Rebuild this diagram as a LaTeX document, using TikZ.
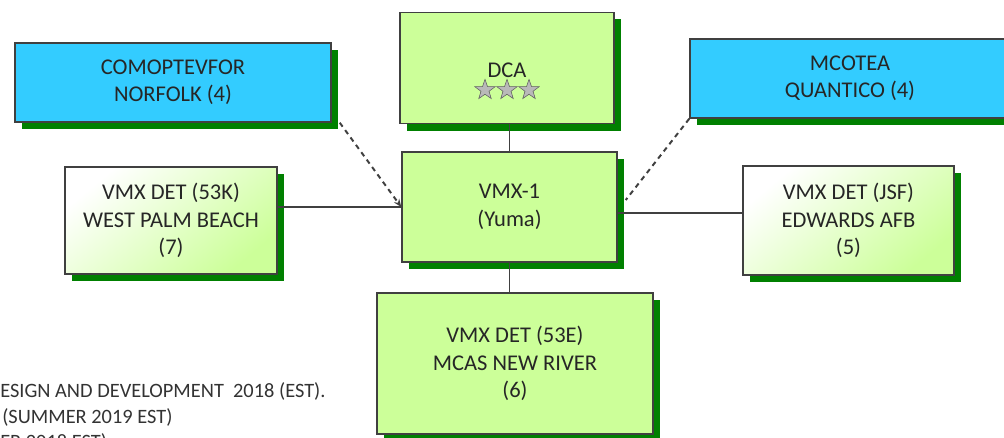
\documentclass[tikz,border=0pt]{standalone}
\usepackage{fontspec}
\setmainfont{Carlito}
\usetikzlibrary{arrows.meta,positioning,shadows,shapes.geometric}
\definecolor{boxgreen}{HTML}{CCFF99}
\definecolor{boxblue}{HTML}{33CCFF}
\definecolor{shadowgreen}{HTML}{008000}
\definecolor{edgegray}{HTML}{404040}

\begin{document}
\begin{tikzpicture}[x=0.025cm, y=-0.025cm, >=Stealth,
 every node/.style={font=\fontsize{16}{19.5}\selectfont, text=black!85},
 box/.style={draw=edgegray, line width=1pt, align=center, inner sep=0pt,
   drop shadow={shadow xshift=1.75mm, shadow yshift=-1.75mm, fill=shadowgreen, opacity=1}},
 greenbox/.style={box, fill=boxgreen},
 bluebox/.style={box, fill=boxblue},
 fadebox/.style={box, top color=white, bottom color=boxgreen, shading angle=40},
 link/.style={draw=edgegray, line width=1pt},
 dashlink/.style={link, line width=1.4pt, dash pattern=on 3.5pt off 3pt},
 starmark/.style={star, star points=5, star point ratio=2.5, minimum size=0.53cm,
   inner sep=0pt, fill=gray!55, draw=gray!75!black, line width=0.4pt},
 notetext/.style={font=\fontsize{14.5}{17.5}\selectfont, text=black!80,
   anchor=base west, inner sep=0pt}]
 \useasboundingbox (0,0) rectangle (1004,438);
 \clip (0,0) rectangle (1004,438);

 % boxes
 \node[greenbox, minimum width=5.35cm, minimum height=2.775cm] (dca) at (507,68) {};
 \node (dcatext) at (507,70) {DCA};
 \foreach \i in {-1,0,1}
   \node[starmark] (star\i) at ({507+22*\i},90) {};
 \node[bluebox, minimum width=7.9cm, minimum height=1.975cm] (comop) at (173,82.5)
   {COMOPTEVFOR\\NORFOLK (4)};
 \node[bluebox, minimum width=8cm, minimum height=1.975cm] (mcotea) at (850,78.5)
   {MCOTEA\\QUANTICO (4)};
 \node[greenbox, minimum width=5.375cm, minimum height=2.75cm] (vmx) at (509.5,207)
   {VMX-1\\(Yuma)};
 \node[fadebox, minimum width=5.3cm, minimum height=2.675cm] (palm) at (171,220.5)
   {VMX DET (53K)\\WEST PALM BEACH\\(7)};
 \node[fadebox, minimum width=5.275cm, minimum height=2.725cm] (edw) at (848.5,220.5)
   {VMX DET (JSF)\\EDWARDS AFB\\(5)};
 \node[greenbox, minimum width=6.9cm, minimum height=3.525cm] (river) at (515,363.5)
   {VMX DET (53E)\\MCAS NEW RIVER\\(6)};

 % connectors
 \coordinate (vmxr) at ([yshift=-1.5mm]vmx.east);
 \coordinate (comopc) at ([xshift=2mm]comop.south east);
 \coordinate (vmxc) at ([xshift=2mm,yshift=1.75mm]vmx.east);
 \draw[link] (vmx.north) -- (vmx.north |- dca.south);
 \draw[link] (vmx.south) -- (vmx.south |- river.north);
 \draw[link] (vmx.west) -- (vmx.west -| palm.east);
 \draw[link] (vmxr) -- (vmxr -| edw.west);
 \draw[dashlink, -{Stealth[length=2mm,width=1.6mm]}] (comopc) -- (vmx.west);
 \draw[dashlink] (mcotea.south west) -- (vmxc);

 % note, cut off at the edge
 \node[notetext] (note1) at (0,397) {ESIGN AND DEVELOPMENT\ \ 2018 (EST).};
 \node[notetext] (note2) at (2,423) {(SUMMER 2019 EST)};
 \node[notetext] (note3) at (0,448) {ER 2018 EST)};
\end{tikzpicture}
\end{document}
